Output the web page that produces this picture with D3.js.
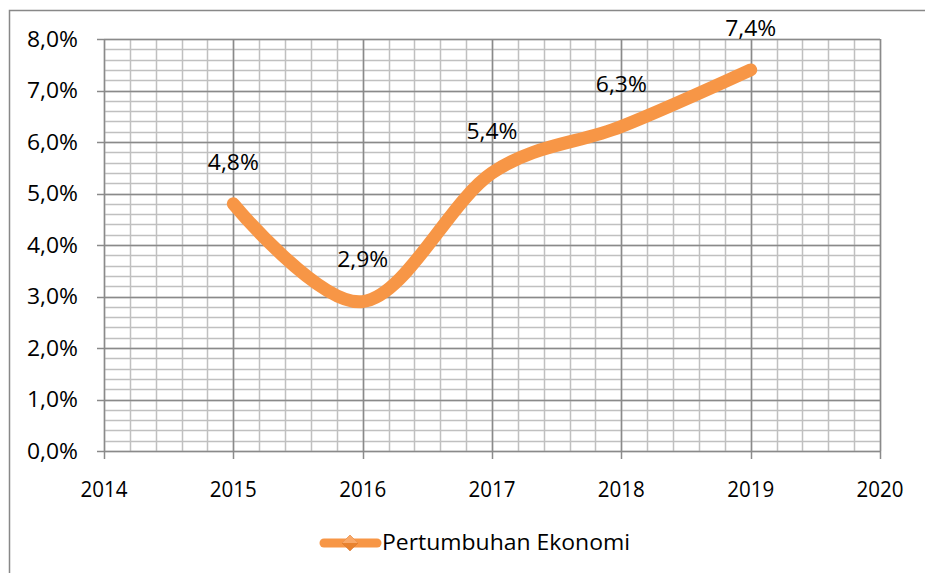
<!DOCTYPE html>
<html><head><meta charset="utf-8">
<script src="https://cdn.jsdelivr.net/npm/d3@7"></script>
<style>body{margin:0;background:#fff}svg{display:block}text{font-family:"Open Sans",sans-serif;fill:#000}</style>
</head><body>
<svg id="c" width="925" height="573"></svg>
<script>
const years = [2015, 2016, 2017, 2018, 2019];
const growth = [4.8, 2.9, 5.4, 6.3, 7.4];
const labels = ["4,8%", "2,9%", "5,4%", "6,3%", "7,4%"];
const xTicks = [2014, 2015, 2016, 2017, 2018, 2019, 2020];
const yTicks = [0, 1, 2, 3, 4, 5, 6, 7, 8];
const seriesName = "Pertumbuhan Ekonomi";

const svg = d3.select("#c");
const x = d3.scaleLinear().domain([2014, 2020]).range([104, 880]);
const y = d3.scaleLinear().domain([0, 8]).range([451, 39]);

// outer chart border
svg.append("rect").attr("x", 9.5).attr("y", 10.5).attr("width", 940).attr("height", 600)
  .attr("fill", "none").attr("stroke", "#888").attr("stroke-width", 1.5);

const g = svg.append("g");
// minor grid
const minorY = d3.range(0, 8.0001, 0.2);
const minorX = d3.range(2014, 2020.0001, 0.2);
g.selectAll(".mx").data(minorX).join("line")
  .attr("x1", d => Math.round(x(d)) + 0.5).attr("x2", d => Math.round(x(d)) + 0.5)
  .attr("y1", y(8)).attr("y2", y(0)).attr("stroke", "#c0c0c0").attr("stroke-width", 1.5);
g.selectAll(".my").data(minorY).join("line")
  .attr("y1", d => Math.round(y(d)) + 0.5).attr("y2", d => Math.round(y(d)) + 0.5)
  .attr("x1", x(2014)).attr("x2", x(2020)).attr("stroke", "#c0c0c0").attr("stroke-width", 1.5);
// major grid
g.selectAll(".Mx").data(xTicks).join("line")
  .attr("x1", d => Math.round(x(d)) + 0.5).attr("x2", d => Math.round(x(d)) + 0.5)
  .attr("y1", y(8)).attr("y2", y(0) + 8).attr("stroke", "#8a8a8a").attr("stroke-width", 1.5);
g.selectAll(".My").data(yTicks).join("line")
  .attr("y1", d => Math.round(y(d)) + 0.5).attr("y2", d => Math.round(y(d)) + 0.5)
  .attr("x1", x(2014) - 7).attr("x2", x(2020)).attr("stroke", "#8a8a8a").attr("stroke-width", 1.5);

// axis labels
g.selectAll(".yl").data(yTicks).join("text")
  .attr("x", 78).attr("y", d => y(d)).attr("dy", "0.35em").attr("text-anchor", "end")
  .attr("font-size", 22).attr("textLength", 51).attr("lengthAdjust", "spacingAndGlyphs")
  .text(d => d.toFixed(1).replace(".", ",") + "%");
g.selectAll(".xl").data(xTicks).join("text")
  .attr("x", d => x(d)).attr("y", 489).attr("dy", "0.35em").attr("text-anchor", "middle")
  .attr("font-size", 22).attr("textLength", 47).attr("lengthAdjust", "spacingAndGlyphs").text(d => d);

// line
const data = years.map((yr, i) => ({yr, v: growth[i], lab: labels[i]}));
const line = d3.line().x(d => x(d.yr)).y(d => y(d.v)).curve(d3.curveCardinal.tension(0));
g.append("path").datum(data).attr("d", line).attr("fill", "none")
  .attr("stroke", "#F79646").attr("stroke-width", 13).attr("stroke-linecap", "round").attr("stroke-linejoin", "round");

// data labels
g.selectAll(".dl").data(data).join("text")
  .attr("x", d => x(d.yr)).attr("y", d => y(d.v) - 42).attr("dy", "0.35em").attr("text-anchor", "middle")
  .attr("font-size", 22).attr("textLength", 51).attr("lengthAdjust", "spacingAndGlyphs").text(d => d.lab);

// legend
const lg = svg.append("g");
lg.append("line").attr("x1", 324).attr("x2", 377).attr("y1", 543).attr("y2", 543)
  .attr("stroke", "#F79646").attr("stroke-width", 9).attr("stroke-linecap", "round");
lg.append("path").attr("d", "M350,535 L358,543 L350,551 L342,543 Z").attr("fill", "#E8822F").attr("stroke", "#D0702A").attr("stroke-width", 0.5);
lg.append("path").attr("d", "M350,535 L358,543 L342,543 Z").attr("fill", "#F9A868");
lg.append("text").attr("x", 382).attr("y", 543).attr("dy", "0.35em").attr("font-size", 21)
  .attr("textLength", 248).attr("lengthAdjust", "spacingAndGlyphs").text(seriesName);
</script>
</body></html>
